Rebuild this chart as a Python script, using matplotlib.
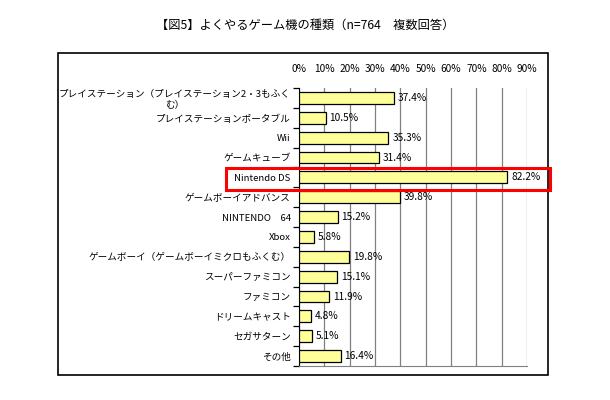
import matplotlib
matplotlib.use("Agg")
import matplotlib.pyplot as plt
from matplotlib.patches import Rectangle
import numpy as np

plt.rcParams['font.family'] = ['Noto Sans CJK JP', 'DejaVu Sans']

categories = [
    "プレイステーション（プレイステーション2・3もふく\nむ）",
    "プレイステーションポータブル",
    "Wii",
    "ゲームキューブ",
    "Nintendo DS",
    "ゲームボーイアドバンス",
    "NINTENDO　64",
    "Xbox",
    "ゲームボーイ（ゲームボーイミクロもふくむ）",
    "スーパーファミコン",
    "ファミコン",
    "ドリームキャスト",
    "セガサターン",
    "その他",
]
values = [37.4, 10.5, 35.3, 31.4, 82.2, 39.8, 15.2, 5.8, 19.8, 15.1, 11.9, 4.8, 5.1, 16.4]
xticks = list(range(0, 100, 10))
title = "【図5】よくやるゲーム機の種類（n=764　複数回答）"

W, H = 610, 400
fig = plt.figure(figsize=(W / 100, H / 100), dpi=100)

# axes placed in pixel terms
left, right, top, bottom = 299, 527, 88, 366
ax = fig.add_axes([left / W, 1 - bottom / H, (right - left) / W, (bottom - top) / H])

y = np.arange(len(categories))
ax.barh(y, values, height=0.6, color="#FFFF99", edgecolor="black", linewidth=0.9, zorder=3)
for yi, v in zip(y, values):
    ax.text(v + 1.5, yi, f"{v:.1f}%", va="center", ha="left", fontsize=7.3, zorder=4)

ax.set_xlim(0, 90)
ax.set_ylim(len(categories) - 0.5, -0.5)
ax.set_xticks(xticks)
ax.set_xticklabels([f"{t}%" for t in xticks], fontsize=7.3)
ax.xaxis.tick_top()
ax.tick_params(axis="x", length=0, pad=10)
ax.grid(axis="x", color="#808080", linewidth=0.9, zorder=0)

ax.set_yticks(y)
ax.set_yticklabels(categories, fontsize=6.9, multialignment="center", linespacing=1.25)
ax.set_yticks(np.arange(len(categories) + 1) - 0.5, minor=True)
ax.tick_params(axis="y", which="major", length=0, pad=6)
ax.tick_params(axis="y", which="minor", length=4, width=0.9, direction="out")

for s in ["top", "right"]:
    ax.spines[s].set_visible(False)
ax.spines["bottom"].set_color("#808080")
ax.spines["left"].set_color("black")

fig.text(305 / W, 1 - 25 / H, title, ha="center", va="center", fontsize=8.8)

# outer frame and highlight box
fig.patches.append(Rectangle((58 / W, 1 - 375 / H), (548 - 58) / W, (375 - 53) / H,
                             transform=fig.transFigure, fill=False, edgecolor="black", linewidth=1.2))
fig.patches.append(Rectangle((226 / W, 1 - 190 / H), (550 - 226) / W, (190 - 168) / H,
                             transform=fig.transFigure, fill=False, edgecolor="#FF0000", linewidth=2.2, zorder=10))

fig.savefig("out.png", dpi=100)
